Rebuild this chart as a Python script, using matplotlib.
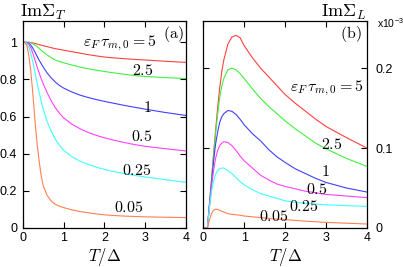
import matplotlib
matplotlib.use("Agg")
import matplotlib.pyplot as plt

plt.rcParams['mathtext.fontset'] = 'cm'
plt.rcParams['font.family'] = ['Liberation Sans', 'DejaVu Sans']

T = [0, 0.05, 0.1, 0.15, 0.2, 0.25, 0.3, 0.35, 0.4, 0.45, 0.5, 0.6, 0.7, 0.8,
     0.9, 1.0, 1.2, 1.4, 1.6, 1.8, 2.0, 2.25, 2.5, 2.75, 3.0, 3.5, 4.0]

labels = ["5", "2.5", "1", "0.5", "0.25", "0.05"]
colors = ['#ff4040', '#40f040', '#4040ff', '#ff40ff', '#40ffff', '#ff8050']

# Panel (a): Im Sigma_T
sigT_5 = [1, 1, 1, 1, 0.999, 0.997, 0.994, 0.991, 0.988, 0.985, 0.982, 0.977, 0.971, 0.966,
          0.962, 0.958, 0.95, 0.942, 0.934, 0.927, 0.921, 0.916, 0.912, 0.908, 0.905, 0.898, 0.892]
sigT_2p5 = [1, 1, 1, 0.999, 0.997, 0.992, 0.985, 0.978, 0.968, 0.958, 0.949, 0.932, 0.917, 0.905,
            0.897, 0.89, 0.878, 0.867, 0.858, 0.85, 0.843, 0.835, 0.828, 0.821, 0.816, 0.81, 0.805]
sigT_1 = [1, 1, 0.999, 0.995, 0.985, 0.968, 0.948, 0.926, 0.905, 0.886, 0.868, 0.835, 0.808, 0.786,
          0.768, 0.754, 0.733, 0.716, 0.703, 0.692, 0.682, 0.671, 0.66, 0.65, 0.64, 0.622, 0.606]
sigT_0p5 = [1, 1, 0.998, 0.99, 0.97, 0.94, 0.905, 0.87, 0.837, 0.806, 0.778, 0.728, 0.684, 0.648,
            0.618, 0.594, 0.56, 0.535, 0.515, 0.499, 0.486, 0.472, 0.46, 0.449, 0.44, 0.427, 0.415]
sigT_0p25 = [1, 1, 0.995, 0.975, 0.94, 0.893, 0.84, 0.785, 0.733, 0.685, 0.643, 0.573, 0.52, 0.478,
             0.446, 0.42, 0.385, 0.36, 0.343, 0.328, 0.316, 0.303, 0.293, 0.283, 0.275, 0.26, 0.246]
sigT_0p05 = [1, 1, 0.985, 0.93, 0.84, 0.72, 0.58, 0.46, 0.365, 0.285, 0.23, 0.175, 0.145, 0.127,
             0.117, 0.11, 0.098, 0.089, 0.082, 0.076, 0.071, 0.067, 0.064, 0.062, 0.06, 0.058, 0.056]

# Panel (b): Im Sigma_L (x 1e-3)
sigL_5 = [0, 0, 0, 0.03, 0.06, 0.092, 0.122, 0.15, 0.175, 0.195, 0.21, 0.23, 0.239, 0.241,
          0.238, 0.228, 0.213, 0.2, 0.189, 0.178, 0.167, 0.156, 0.146, 0.136, 0.127, 0.113, 0.100]
sigL_2p5 = [0, 0, 0, 0.03, 0.06, 0.09, 0.118, 0.142, 0.163, 0.177, 0.187, 0.198, 0.2, 0.198,
            0.193, 0.187, 0.174, 0.162, 0.152, 0.143, 0.134, 0.124, 0.115, 0.106, 0.099, 0.087, 0.077]
sigL_1 = [0, 0, 0, 0.028, 0.056, 0.083, 0.105, 0.12, 0.132, 0.139, 0.143, 0.147, 0.146, 0.142,
          0.136, 0.129, 0.118, 0.109, 0.098, 0.089, 0.082, 0.074, 0.068, 0.062, 0.057, 0.05, 0.045]
sigL_0p5 = [0, 0, 0, 0.027, 0.052, 0.072, 0.087, 0.097, 0.103, 0.106, 0.108, 0.107, 0.103, 0.097,
            0.09, 0.084, 0.075, 0.066, 0.06, 0.055, 0.052, 0.049, 0.046, 0.044, 0.042, 0.04, 0.038]
sigL_0p25 = [0, 0, 0, 0.025, 0.045, 0.059, 0.067, 0.072, 0.074, 0.075, 0.075, 0.072, 0.068, 0.063,
             0.058, 0.054, 0.048, 0.043, 0.04, 0.037, 0.034, 0.032, 0.031, 0.03, 0.029, 0.028, 0.027]
sigL_0p05 = [0, 0, 0, 0.01, 0.018, 0.022, 0.0235, 0.0234, 0.022, 0.021, 0.02, 0.018, 0.017, 0.0165,
             0.016, 0.015, 0.014, 0.013, 0.012, 0.011, 0.0105, 0.0095, 0.0085, 0.0078, 0.007, 0.006, 0.005]

seriesT = [sigT_5, sigT_2p5, sigT_1, sigT_0p5, sigT_0p25, sigT_0p05]
seriesL = [sigL_5, sigL_2p5, sigL_1, sigL_0p5, sigL_0p25, sigL_0p05]

W, H = 403, 267
fig = plt.figure(figsize=(W / 100, H / 100), dpi=100)
axA = fig.add_axes([22.7 / W, 1 - 228 / H, (186 - 22.7) / W, (228 - 21) / H])
axB = fig.add_axes([203.3 / W, 1 - 228 / H, (367 - 203.3) / W, (228 - 21) / H])

for ys, c in zip(seriesT, colors):
    axA.plot(T, ys, color=c, lw=0.8)
for ys, c in zip(seriesL, colors):
    axB.plot(T, ys, color=c, lw=0.8)

for ax in (axA, axB):
    ax.set_xlim(0, 4)
    ax.set_xticks([0, 1, 2, 3, 4])
    ax.tick_params(direction='in', length=4, width=0.8, top=True, right=True,
                   labelsize=9, pad=4)
    ax.tick_params(axis='x', pad=3)
    for s in ax.spines.values():
        s.set_linewidth(0.9)

axA.set_ylim(0, 1.115)
axA.set_yticks([0, 0.2, 0.4, 0.6, 0.8, 1.0])
axA.set_yticklabels(['0', '0.2', '0.4', '0.6', '0.8', '1'])

axB.set_ylim(0, 0.259)
axB.set_yticks([0, 0.1, 0.2])
axB.set_yticklabels(['0', '0.1', '0.2'])
axB.tick_params(axis='y', left=True, right=True, labelleft=False, labelright=True, pad=6)

# x-axis labels
fig.text((22.7 + 186) / 2 / W, 1 - 256.5 / H, r'$T/\Delta$', ha='center', va='center', fontsize=12)
fig.text((203.3 + 367) / 2 / W, 1 - 256.5 / H, r'$T/\Delta$', ha='center', va='center', fontsize=12)

# annotations
fs = 11.5
axA.text(2.39, 0.996, r'$\varepsilon_F\,\tau_{m,0}=5$', ha='center', va='center', fontsize=fs)
axA.text(2.95, 0.85, r'$2.5$', ha='center', va='center', fontsize=fs)
axA.text(3.05, 0.65, r'$1$', ha='center', va='center', fontsize=fs)
axA.text(2.92, 0.495, r'$0.5$', ha='center', va='center', fontsize=fs)
axA.text(2.8, 0.312, r'$0.25$', ha='center', va='center', fontsize=fs)
axA.text(2.6, 0.111, r'$0.05$', ha='center', va='center', fontsize=fs)
axA.text(3.94, 1.045, r'$\mathrm{(a)}$', ha='right', va='center', fontsize=fs)

axB.text(3.02, 0.1746, r'$\varepsilon_F\,\tau_{m,0}=5$', ha='center', va='center', fontsize=fs)
axB.text(3.14, 0.104, r'$2.5$', ha='center', va='center', fontsize=fs)
axB.text(2.98, 0.0704, r'$1$', ha='center', va='center', fontsize=fs)
axB.text(2.77, 0.048, r'$0.5$', ha='center', va='center', fontsize=fs)
axB.text(2.46, 0.027, r'$0.25$', ha='center', va='center', fontsize=fs)
axB.text(1.71, 0.015, r'$0.05$', ha='center', va='center', fontsize=fs)
axB.text(3.88, 0.243, r'$\mathrm{(b)}$', ha='right', va='center', fontsize=fs)

fig.text(20 / W, 1 - 12 / H, r'$\mathrm{Im}\Sigma_T$', ha='left', va='center', fontsize=13)
fig.text(367 / W, 1 - 12 / H, r'$\mathrm{Im}\Sigma_L$', ha='right', va='center', fontsize=13)
fig.text(377 / W, 1 - 23 / H, r'x10$^{\mathregular{-3}}$', ha='left', va='center', fontsize=7.5)

fig.savefig('out.png', dpi=100)
